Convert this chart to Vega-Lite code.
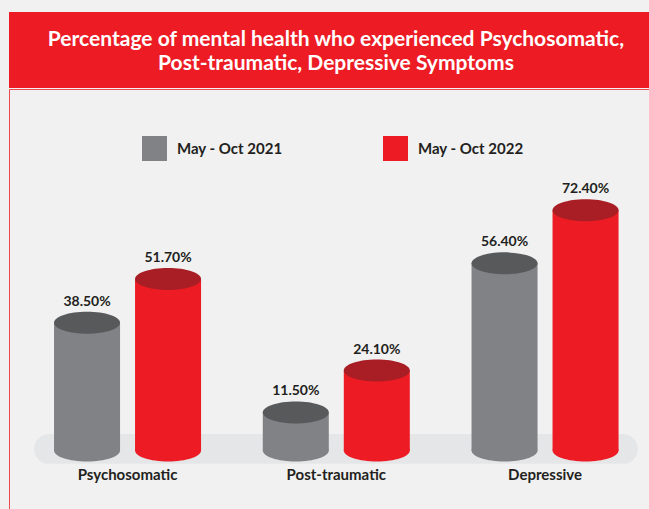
{
  "$schema": "https://vega.github.io/schema/vega-lite/v6.json",
  "background": "#f1f1f1",
  "padding": {"left": 8, "top": 12, "right": 0, "bottom": 0},
  "spacing": 0,
  "config": {"view": {"stroke": null}, "font": "Lato"},
  "vconcat": [
    {
      "width": 642,
      "height": 76,
      "view": {"fill": "#ed1c24", "stroke": null},
      "data": {"values": [{"t": "title"}]},
      "mark": {
        "type": "text",
        "text": ["Percentage of mental health who experienced Psychosomatic,", "Post-traumatic, Depressive Symptoms"],
        "color": "#ffffff",
        "font": "Lato",
        "fontSize": 21,
        "fontWeight": "bold",
        "lineHeight": 24,
        "baseline": "middle",
        "align": "center",
        "dx": 6,
        "dy": -10
      }
    },
    {
      "width": 642,
      "height": 422,
      "view": {"stroke": "#ec4a50", "strokeWidth": 1},
      "data": {
        "values": [
          {"symptom": "Psychosomatic", "period": "May - Oct 2021", "value": 38.5},
          {"symptom": "Psychosomatic", "period": "May - Oct 2022", "value": 51.7},
          {"symptom": "Post-traumatic", "period": "May - Oct 2021", "value": 11.5},
          {"symptom": "Post-traumatic", "period": "May - Oct 2022", "value": 24.1},
          {"symptom": "Depressive", "period": "May - Oct 2021", "value": 56.4},
          {"symptom": "Depressive", "period": "May - Oct 2022", "value": 72.4}
        ]
      },
      "layer": [
        {
          "data": {"values": [{"floor": "floor"}]},
          "mark": {"type": "rect", "color": "#e5e6e8", "cornerRadius": 15},
          "encoding": {
            "x": {
              "datum": "Psychosomatic",
              "type": "nominal",
              "bandPosition": 0.052,
              "scale": {"domain": ["Psychosomatic", "Post-traumatic", "Depressive"], "paddingInner": 0, "paddingOuter": 0.0377, "align": 0.9},
              "axis": {
                "title": null,
                "domain": false,
                "ticks": false,
                "labelAngle": 0,
                "labelFont": "Lato",
                "labelFontSize": 15,
                "labelFontWeight": "bold",
                "labelColor": "#231f20",
                "labelPadding": 0,
                "offset": -44
              }
            },
            "x2": {"datum": "Depressive", "bandPosition": 0.945},
            "y": {"datum": 5, "type": "quantitative", "scale": {"domain": [-18.2, 108.9], "nice": false, "zero": false}, "axis": null},
            "y2": {"datum": -4}
          }
        },
        {
          "mark": {"type": "bar"},
          "encoding": {
            "x": {"field": "symptom", "type": "nominal", "sort": ["Psychosomatic", "Post-traumatic", "Depressive"]},
            "xOffset": {"field": "period", "type": "nominal", "scale": {"paddingInner": 0.185, "paddingOuter": 0.381}},
            "y": {"field": "value", "type": "quantitative"},
            "y2": {"datum": 0},
            "color": {
              "field": "period",
              "type": "nominal",
              "scale": {"domain": ["May - Oct 2021", "May - Oct 2022"], "range": ["#808285", "#ed1c24"]},
              "legend": {
                "orient": "none",
                "legendX": 133,
                "legendY": 124,
                "direction": "horizontal",
                "title": null,
                "padding": 0,
                "symbolType": "square",
                "symbolSize": 625,
                "symbolStrokeWidth": 0,
                "symbolOpacity": 1,
                "labelFont": "Lato",
                "labelFontSize": 15,
                "labelFontWeight": "bold",
                "labelColor": "#231f20",
                "labelOffset": 10,
                "columnPadding": 100
              }
            }
          }
        },
        {
          "mark": {
            "type": "point",
            "shape": "M -1 0 C -1 -0.184 -0.552 -0.333 0 -0.333 C 0.552 -0.333 1 -0.184 1 0 C 1 0.184 0.552 0.333 0 0.333 C -0.552 0.333 -1 0.184 -1 0 Z",
            "size": 4356,
            "filled": true,
            "opacity": 1,
            "strokeWidth": 0
          },
          "encoding": {
            "x": {"field": "symptom", "type": "nominal"},
            "xOffset": {"field": "period", "type": "nominal"},
            "y": {"datum": 0, "type": "quantitative"},
            "color": {"condition": {"test": "datum.period === 'May - Oct 2021'", "value": "#808285"}, "value": "#ed1c24"}
          }
        },
        {
          "mark": {
            "type": "point",
            "shape": "M -1 0 C -1 -0.184 -0.552 -0.333 0 -0.333 C 0.552 -0.333 1 -0.184 1 0 C 1 0.184 0.552 0.333 0 0.333 C -0.552 0.333 -1 0.184 -1 0 Z",
            "size": 4356,
            "filled": true,
            "opacity": 1,
            "strokeWidth": 0
          },
          "encoding": {
            "x": {"field": "symptom", "type": "nominal"},
            "xOffset": {"field": "period", "type": "nominal"},
            "y": {"field": "value", "type": "quantitative"},
            "color": {"condition": {"test": "datum.period === 'May - Oct 2021'", "value": "#58595b"}, "value": "#a91e25"}
          }
        },
        {
          "transform": [{"calculate": "format(datum.value, '.2f') + '%'", "as": "label"}],
          "mark": {
            "type": "text",
            "font": "Lato",
            "fontSize": 14,
            "fontWeight": "bold",
            "color": "#231f20",
            "baseline": "alphabetic",
            "align": "center",
            "dy": -17
          },
          "encoding": {
            "x": {"field": "symptom", "type": "nominal"},
            "xOffset": {"field": "period", "type": "nominal"},
            "y": {"field": "value", "type": "quantitative"},
            "text": {"field": "label"}
          }
        }
      ]
    }
  ]
}
